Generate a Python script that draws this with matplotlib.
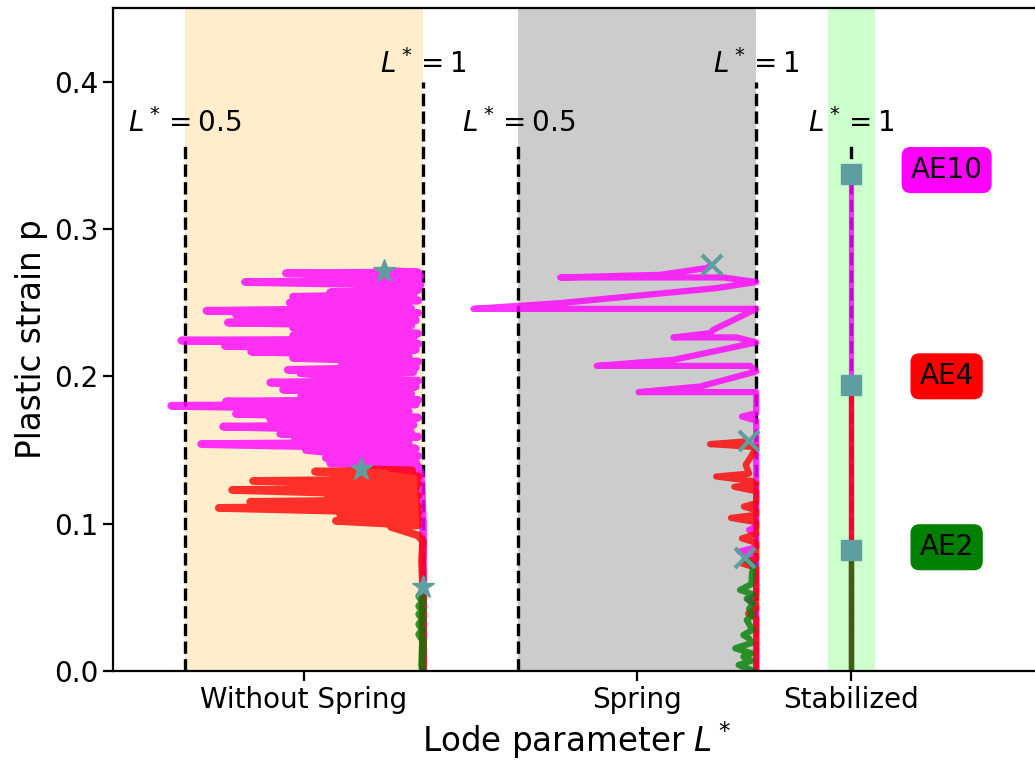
import matplotlib
matplotlib.use("Agg")
import matplotlib.pyplot as plt

groups = ["Without Spring", "Spring", "Stabilized"]
elements = ["AE10", "AE4", "AE2"]
el_colors = ["magenta", "red", "green"]

# ---- Without Spring: Lode parameter L* and plastic strain p per element
ws_ae10_L = [1.0, 1.0, 0.995, 0.93, 0.99, 0.805, 0.985, 0.796, 0.99, 0.82,
             0.754, 0.985, 0.86, 0.534, 0.97, 0.81, 0.731, 0.99, 0.70, 0.975,
             0.83, 0.58, 0.98, 0.85, 0.679, 0.99, 0.607, 0.97, 0.84, 0.471,
             0.985, 0.586, 0.99, 0.744, 0.975, 0.82, 0.706, 0.985, 0.679, 0.99,
             0.86, 0.742, 0.98, 0.716, 0.985, 0.83, 0.99, 0.727, 0.97, 0.639,
             0.985, 0.584, 0.99, 0.492, 0.98, 0.84, 0.727, 0.99, 0.85, 0.727,
             0.975, 0.59, 0.985, 0.85, 0.607, 0.99, 0.545, 0.975, 0.83, 0.72,
             0.99, 0.86, 0.727, 0.98, 0.805, 0.99, 0.88, 0.995, 0.626, 0.99,
             0.90, 0.995, 0.712, 0.99, 0.918]
ws_ae10_p = [0.0, 0.10, 0.135, 0.138, 0.139, 0.141, 0.142, 0.1446, 0.146, 0.148,
             0.150, 0.151, 0.152, 0.154, 0.155, 0.156, 0.158, 0.159, 0.161, 0.162,
             0.164, 0.1659, 0.167, 0.169, 0.171, 0.172, 0.1745, 0.176, 0.178, 0.180,
             0.181, 0.1829, 0.184, 0.1863, 0.188, 0.1895, 0.191, 0.193, 0.1958, 0.197,
             0.199, 0.2022, 0.203, 0.2044, 0.206, 0.208, 0.210, 0.2125, 0.214, 0.2168,
             0.218, 0.2207, 0.222, 0.2243, 0.225, 0.2265, 0.2277, 0.229, 0.231, 0.233,
             0.2345, 0.2365, 0.238, 0.2395, 0.2418, 0.243, 0.2445, 0.246, 0.248, 0.250,
             0.2515, 0.2525, 0.254, 0.2555, 0.257, 0.2585, 0.2605, 0.262, 0.264, 0.265,
             0.2665, 0.268, 0.270, 0.2705, 0.2716]

ws_ae4_L = [1.0, 1.0, 0.998, 1.0, 0.99, 0.933, 0.99, 0.817, 0.99, 0.826,
            0.99, 0.571, 0.99, 0.88, 0.637, 0.985, 0.80, 0.99, 0.86, 0.599,
            0.985, 0.82, 0.99, 0.643, 0.98, 0.83, 0.99, 0.88, 0.773, 0.977,
            0.87]
ws_ae4_p = [0.0, 0.057, 0.075, 0.088, 0.092, 0.0978, 0.099, 0.1019, 0.103, 0.106,
            0.1075, 0.1107, 0.112, 0.113, 0.1148, 0.116, 0.1175, 0.119, 0.1205, 0.1229,
            0.124, 0.1255, 0.127, 0.129, 0.130, 0.131, 0.132, 0.1335, 0.1354, 0.136,
            0.137]

ws_ae2_L = [1.0, 0.998, 1.0, 0.992, 1.0, 0.992, 1.0, 0.992, 1.0, 0.992, 1.0, 0.992, 1.0, 1.0]
ws_ae2_p = [0.0, 0.004, 0.021, 0.0249, 0.028, 0.0317, 0.035, 0.0385, 0.041, 0.044, 0.047, 0.0507, 0.054, 0.057]

# ---- Spring
sp_ae10_L = [1.0, 1.0, 0.985, 1.0, 1.0, 0.965, 1.0, 1.0, 0.985, 1.0,
             1.0, 0.97, 1.0, 1.0, 0.753, 0.882, 1.0, 0.987, 0.665, 0.826,
             1.0, 0.959, 0.826, 0.903, 0.910, 1.0, 0.406, 0.588, 0.917, 1.0,
             0.931, 0.588, 0.798, 0.896, 0.907]
sp_ae10_p = [0.0, 0.044, 0.048, 0.052, 0.077, 0.081, 0.084, 0.093, 0.0958, 0.098,
             0.170, 0.1727, 0.175, 0.1893, 0.1893, 0.1931, 0.2033, 0.2071, 0.2071, 0.2112,
             0.2230, 0.2264, 0.2264, 0.2293, 0.2316, 0.2458, 0.2458, 0.2497, 0.2599, 0.2640,
             0.2671, 0.2671, 0.2689, 0.2735, 0.2757]

sp_ae4_L = [1.0, 1.0, 0.983, 1.0, 1.0, 0.97, 1.0, 1.0, 0.97, 1.0,
            1.0, 0.947, 1.0, 1.0, 0.974, 1.0, 1.0, 0.954, 1.0, 0.99,
            0.916, 0.985, 0.978, 0.99, 1.0, 0.903, 0.985]
sp_ae4_p = [0.0, 0.036, 0.039, 0.042, 0.070, 0.073, 0.076, 0.087, 0.090, 0.093,
            0.101, 0.1039, 0.106, 0.109, 0.1116, 0.114, 0.122, 0.125, 0.127, 0.129,
            0.132, 0.134, 0.140, 0.146, 0.152, 0.154, 0.156]

sp_ae2_L = [0.995, 0.963, 0.99, 0.973, 0.99, 0.956, 0.99, 0.985, 0.973, 0.992,
            0.98, 0.992, 0.985, 0.993, 0.98, 0.993, 0.966, 0.99, 0.991, 0.995,
            0.976]
sp_ae2_p = [0.0, 0.0041, 0.007, 0.0097, 0.012, 0.0154, 0.019, 0.022, 0.0244, 0.028,
            0.0346, 0.038, 0.042, 0.046, 0.049, 0.052, 0.055, 0.059, 0.0663, 0.071,
            0.0767]

# ---- Stabilized
st_ae10_L = [1.0, 1.0]
st_ae10_p = [0.0, 0.337]
st_ae4_L = [1.0, 1.0]
st_ae4_p = [0.0, 0.194]
st_ae2_L = [1.0, 1.0]
st_ae2_p = [0.0, 0.082]

# end points (AE10, AE4, AE2)
ws_end_L = [0.918, 0.87, 1.0]
ws_end_p = [0.2716, 0.137, 0.057]
sp_end_L = [0.907, 0.985, 0.976]
sp_end_p = [0.2757, 0.156, 0.0767]
st_end_L = [1.0, 1.0, 1.0]
st_end_p = [0.337, 0.194, 0.082]

label_p = [0.34, 0.2, 0.084]

# layout
offsets = [0.0, 0.7, 0.9]
line_w = [5.6, 4.5, 3.8]
fig = plt.figure(figsize=(10.35, 7.62), dpi=100)
ax = fig.add_axes([113 / 1035, 91 / 762, 927 / 1035, 663 / 762])

traces = [
    [(ws_ae10_L, ws_ae10_p), (ws_ae4_L, ws_ae4_p), (ws_ae2_L, ws_ae2_p)],
    [(sp_ae10_L, sp_ae10_p), (sp_ae4_L, sp_ae4_p), (sp_ae2_L, sp_ae2_p)],
    [(st_ae10_L, st_ae10_p), (st_ae4_L, st_ae4_p), (st_ae2_L, st_ae2_p)],
]
ends = [(ws_end_L, ws_end_p, '*'), (sp_end_L, sp_end_p, 'x'), (st_end_L, st_end_p, 's')]

# background bands
ax.axvspan(0.5, 1.0, color='orange', alpha=0.2, lw=0, zorder=0)
ax.axvspan(1.2, 1.7, color='gray', alpha=0.4, lw=0, zorder=0)
ax.axvspan(1.85, 1.95, color='lime', alpha=0.2, lw=0, zorder=0)

# dashed reference lines + labels
for off in offsets[:2]:
    ax.plot([off + 0.5, off + 0.5], [0, 0.36], 'k--', lw=2.4, zorder=1)
    ax.plot([off + 1.0, off + 1.0], [0, 0.40], 'k--', lw=2.4, zorder=1)
    ax.text(off + 0.5, 0.366, r'$L^*=0.5$', ha='center', va='baseline', fontsize=20)
    ax.text(off + 1.0, 0.406, r'$L^*=1$', ha='center', va='baseline', fontsize=20)
ax.plot([1.9, 1.9], [0, 0.36], 'k--', lw=2.4, zorder=1)
ax.text(1.9, 0.366, r'$L^*=1$', ha='center', va='baseline', fontsize=20)

for g, off in enumerate(offsets):
    for k in range(3):
        L, p = traces[g][k]
        ax.plot([v + off for v in L], p, color=el_colors[k], alpha=0.8, lw=line_w[g],
                solid_joinstyle='round', solid_capstyle='round', zorder=2)
    eL, ep, mk = ends[g]
    if mk == 'x':
        ax.plot([v + off for v in eL], ep, 'x', color='cadetblue', ms=15, mew=3, ls='none', zorder=3)
    elif mk == '*':
        ax.plot([v + off for v in eL], ep, '*', color='cadetblue', ms=17, ls='none', zorder=3)
    else:
        ax.plot([v + off for v in eL], ep, 's', color='cadetblue', ms=14, ls='none', zorder=3)

for k in range(3):
    ax.text(2.1, label_p[k], elements[k], ha='center', va='center', fontsize=20,
            bbox=dict(boxstyle='round,pad=0.3', fc=el_colors[k], ec=el_colors[k]))

ax.set_xlim(0.3487, 0.3487 + 927 / 476)
ax.set_ylim(0, 0.45)
ax.set_xticks([0.75, 1.45, 1.9])
ax.set_xticklabels(groups)
ax.set_yticks([0.0, 0.1, 0.2, 0.3, 0.4])
ax.tick_params(labelsize=20, length=7, width=1.6)
for s in ax.spines.values():
    s.set_linewidth(1.6)
ax.set_xlabel(r'Lode parameter $L^*$', fontsize=23.5)
ax.set_ylabel('Plastic strain p', fontsize=23.5)

fig.savefig('out.png', dpi=100)
